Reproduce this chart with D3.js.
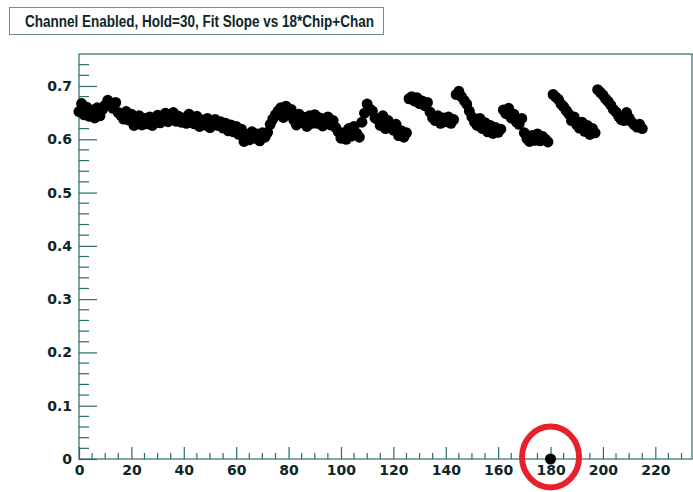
<!DOCTYPE html>
<html lang="en">
    <head>
        <meta charset="utf-8">
        <title>Fit Slope vs 18*Chip+Chan</title>
        <script type="text/javascript" src="https://cdnjs.cloudflare.com/ajax/libs/d3/7.8.5/d3.min.js"></script>
        <style type="text/css">
            body { margin: 0; background: #fff; }
            text { font-weight: bold; }
        </style>
    </head>
    <body>
        <script type="text/javascript">
            var w = 693;
            var h = 492;

            var title = "Channel Enabled, Hold=30, Fit Slope vs 18*Chip+Chan";

            // fit slope per channel, one row per chip (18 channels each)
            var chip0  = [0.652, 0.667, 0.646, 0.660, 0.643, 0.655, 0.640, 0.659, 0.644, 0.656, 0.664, 0.673, 0.663, 0.658, 0.669, 0.650, 0.645, 0.638];
            var chip1  = [0.652, 0.636, 0.647, 0.626, 0.635, 0.644, 0.627, 0.639, 0.629, 0.642, 0.626, 0.637, 0.645, 0.631, 0.640, 0.649, 0.633, 0.644];
            var chip2  = [0.650, 0.634, 0.643, 0.632, 0.640, 0.630, 0.647, 0.634, 0.629, 0.643, 0.624, 0.636, 0.627, 0.639, 0.622, 0.633, 0.637, 0.626];
            var chip3  = [0.633, 0.621, 0.630, 0.616, 0.627, 0.614, 0.624, 0.609, 0.619, 0.596, 0.608, 0.599, 0.614, 0.602, 0.610, 0.597, 0.612, 0.604];
            var chip4  = [0.613, 0.628, 0.638, 0.646, 0.653, 0.659, 0.641, 0.662, 0.647, 0.656, 0.636, 0.627, 0.647, 0.632, 0.641, 0.624, 0.644, 0.630];
            var chip5  = [0.646, 0.630, 0.640, 0.625, 0.637, 0.642, 0.627, 0.635, 0.622, 0.614, 0.602, 0.612, 0.600, 0.620, 0.606, 0.624, 0.611, 0.604];
            var chip6  = [0.632, 0.649, 0.666, 0.657, 0.653, 0.640, 0.637, 0.626, 0.644, 0.620, 0.635, 0.623, 0.617, 0.628, 0.607, 0.616, 0.604, 0.612];
            var chip7  = [0.676, 0.680, 0.672, 0.678, 0.667, 0.672, 0.663, 0.669, 0.651, 0.640, 0.635, 0.644, 0.630, 0.640, 0.633, 0.642, 0.630, 0.637];
            var chip8  = [0.684, 0.690, 0.680, 0.673, 0.666, 0.653, 0.642, 0.632, 0.626, 0.639, 0.620, 0.631, 0.614, 0.626, 0.611, 0.622, 0.613, 0.619];
            var chip9  = [0.655, 0.648, 0.658, 0.640, 0.647, 0.632, 0.628, 0.639, 0.612, 0.601, 0.596, 0.607, 0.598, 0.610, 0.597, 0.605, 0.600, 0.595];
            var chip10 = [0.000, 0.684, 0.679, 0.675, 0.666, 0.661, 0.654, 0.647, 0.635, 0.642, 0.627, 0.621, 0.632, 0.615, 0.626, 0.609, 0.620, 0.612];
            var chip11 = [0.693, 0.688, 0.683, 0.676, 0.671, 0.664, 0.656, 0.651, 0.643, 0.637, 0.635, 0.650, 0.640, 0.632, 0.627, 0.623, 0.628, 0.620];

            var chips = [chip0, chip1, chip2, chip3, chip4, chip5, chip6, chip7, chip8, chip9, chip10, chip11];

            var xTicks = [0, 20, 40, 60, 80, 100, 120, 140, 160, 180, 200, 220];
            var yTicks = [0, 0.1, 0.2, 0.3, 0.4, 0.5, 0.6, 0.7];

            // the dead channel that is ringed in red
            var flagged = [180];

            var dataset = [];
            chips.forEach(function (c, chip) {
                c.forEach(function (v, chan) {
                    dataset.push({ x: 18 * chip + chan, y: v });
                });
            });

            var axisColor = "#2c6b6b";
            var textColor = "#0e2626";
            var tickFont = "'DejaVu Sans', sans-serif";

            var x = d3.scaleLinear().domain([0, 234]).range([79, 692]);
            var y = d3.scaleLinear().domain([0, 0.76]).range([459, 54]);

            var svg = d3.select("body")
                        .append("svg")
                        .attr("width", w)
                        .attr("height", h);

            // title box
            svg.append("rect")
               .attr("x", 9.5)
               .attr("y", 7.5)
               .attr("width", 374)
               .attr("height", 27)
               .attr("fill", "white")
               .attr("stroke", "#6d8f8f")
               .attr("stroke-width", 1);

            svg.append("text")
               .attr("x", 25)
               .attr("y", 27)
               .attr("textLength", 349)
               .attr("lengthAdjust", "spacingAndGlyphs")
               .attr("fill", textColor)
               .style("font-family", "'Liberation Sans', Arial, sans-serif")
               .style("font-size", "16px")
               .text(title);

            // frame
            svg.append("rect")
               .attr("x", x(0))
               .attr("y", y(0.76))
               .attr("width", x(234) - x(0))
               .attr("height", y(0) - y(0.76))
               .attr("fill", "none")
               .attr("stroke", axisColor)
               .attr("stroke-width", 1.2);

            // x axis: majors every 20, minors every 5, pointing inward
            var xAxis = d3.axisBottom(x).tickValues(xTicks).tickSize(-12).tickPadding(6)
                          .tickFormat(d3.format("d"));
            var gx = svg.append("g").attr("transform", "translate(0," + y(0) + ")").call(xAxis);
            gx.select(".domain").remove();
            gx.selectAll(".tick line").attr("stroke", axisColor).attr("stroke-width", 1.2);
            gx.selectAll(".tick text").attr("fill", textColor)
              .style("font-size", "14px").style("font-family", tickFont);

            var xMinor = d3.range(5, 234, 5).filter(function (d) { return d % 20 !== 0; });
            svg.selectAll("line.xminor")
               .data(xMinor)
               .enter()
               .append("line")
               .attr("x1", function (d) { return x(d); })
               .attr("x2", function (d) { return x(d); })
               .attr("y1", y(0))
               .attr("y2", y(0) - 6)
               .attr("stroke", axisColor)
               .attr("stroke-width", 1.2);

            // y axis: majors every 0.1, minors every 0.02
            var yAxis = d3.axisLeft(y).tickValues(yTicks).tickSize(-18).tickPadding(7)
                          .tickFormat(function (d) { return d === 0 ? "0" : d3.format(".1f")(d); });
            var gy = svg.append("g").attr("transform", "translate(" + x(0) + ",0)").call(yAxis);
            gy.select(".domain").remove();
            gy.selectAll(".tick line").attr("stroke", axisColor).attr("stroke-width", 1.2);
            gy.selectAll(".tick text").attr("fill", textColor)
              .style("font-size", "14px").style("font-family", tickFont);

            var yMinor = d3.range(1, 38).map(function (i) { return i * 0.02; })
                           .filter(function (d, i) { return (i + 1) % 5 !== 0; });
            svg.selectAll("line.yminor")
               .data(yMinor)
               .enter()
               .append("line")
               .attr("x1", x(0))
               .attr("x2", x(0) + 10)
               .attr("y1", function (d) { return y(d); })
               .attr("y2", function (d) { return y(d); })
               .attr("stroke", axisColor)
               .attr("stroke-width", 1.2);

            // markers
            svg.selectAll("circle.pt")
               .data(dataset)
               .enter()
               .append("circle")
               .attr("class", "pt")
               .attr("cx", function (d) { return x(d.x); })
               .attr("cy", function (d) { return y(d.y); })
               .attr("r", 5.5)
               .attr("fill", "black");

            // red ring round the dead channel
            svg.selectAll("ellipse")
               .data(flagged)
               .enter()
               .append("ellipse")
               .attr("cx", function (d) { return x(d); })
               .attr("cy", y(0) - 2)
               .attr("rx", 28.5)
               .attr("ry", 30.5)
               .attr("fill", "none")
               .attr("stroke", "#e8202a")
               .attr("stroke-width", 6);
        </script>
    </body>
</html>
